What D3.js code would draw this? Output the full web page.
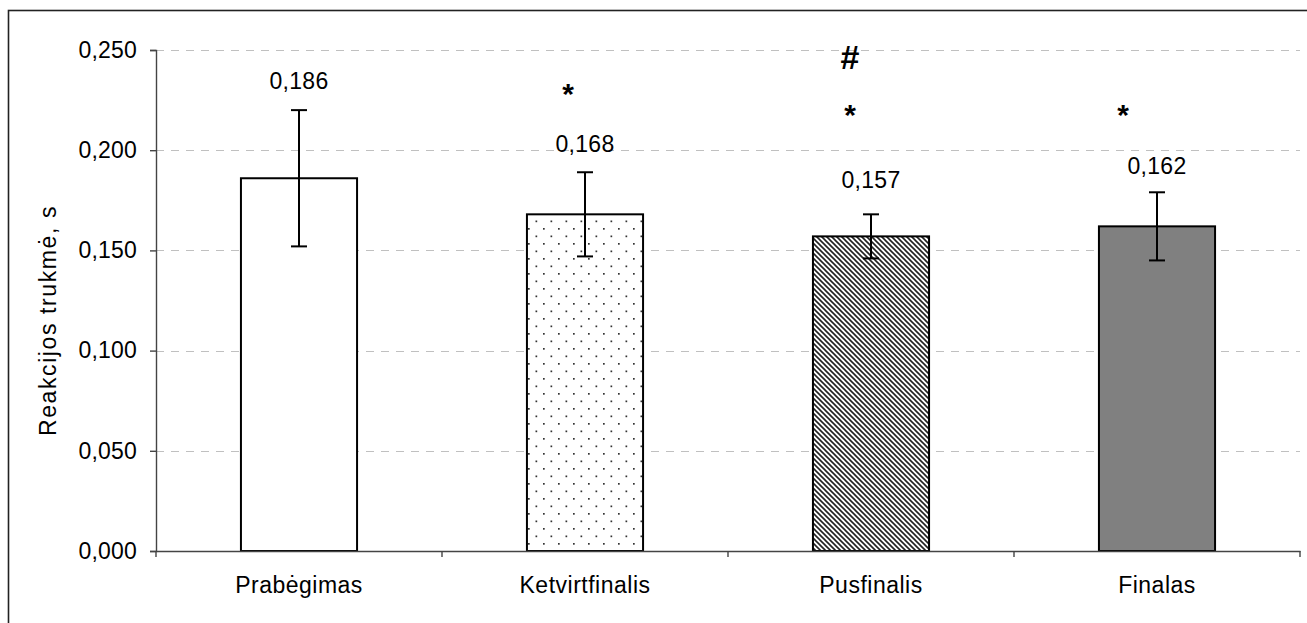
<!DOCTYPE html>
<html>
<head>
<meta charset="utf-8">
<script src="https://cdn.jsdelivr.net/npm/d3@7"></script>
<style>
  html, body { margin: 0; padding: 0; background: #fff; }
  svg { display: block; font-family: "Liberation Sans", Arial, sans-serif; }
</style>
</head>
<body>
<svg id="chart" width="1307" height="623"></svg>
<script>
// ---- data ----
const categories = ["Prabėgimas", "Ketvirtfinalis", "Pusfinalis", "Finalas"];
const means      = [0.186, 0.168, 0.157, 0.162];
const errors     = [0.034, 0.021, 0.011, 0.017];
const valueLabels = ["0,186", "0,168", "0,157", "0,162"];
const starMarks  = ["", "*", "*", "*"];          // significant vs Prabėgimas
const starLevels = [null, 0.2285, 0.2176, 0.2176];
const hashMarks  = ["", "", "#", ""];            // significant vs Ketvirtfinalis
const hashLevels = [null, null, 0.2465, null];
const yTicks = [0, 0.05, 0.10, 0.15, 0.20, 0.25];
const yTickLabels = ["0,000", "0,050", "0,100", "0,150", "0,200", "0,250"];
const yTitle = "Reakcijos trukmė, s";

// ---- layout / style ----
const fills = ["white", "url(#dots)", "url(#hatch)", "#808080"];
const markDx = [0, -17, -21, -34];
const labelGap = [21, 20, 26, 18];
const FS = 23;
const svg = d3.select("#chart");
const pLeft = 156, pRight = 1300, pTop = 50, pBottom = 551;

const defs = svg.append("defs");
const dots = defs.append("pattern").attr("id", "dots").attr("patternUnits", "userSpaceOnUse")
  .attr("width", 15).attr("height", 15);
dots.append("rect").attr("width", 15).attr("height", 15).attr("fill", "white");
dots.append("rect").attr("x", 3).attr("y", 3).attr("width", 1.7).attr("height", 1.7).attr("fill", "#333");
dots.append("rect").attr("x", 10.5).attr("y", 10.5).attr("width", 1.7).attr("height", 1.7).attr("fill", "#333");

const hatch = defs.append("pattern").attr("id", "hatch").attr("patternUnits", "userSpaceOnUse")
  .attr("width", 5).attr("height", 5);
hatch.append("rect").attr("width", 5).attr("height", 5).attr("fill", "white");
hatch.append("path").attr("d", "M-1,-1 L6,6 M-1,4 L1,6 M4,-1 L6,1")
  .attr("stroke", "#222").attr("stroke-width", 1.6);

// outer frame (right/bottom edges fall outside the picture)
svg.append("rect").attr("x", 8.5).attr("y", 10.5).attr("width", 1320).attr("height", 640)
  .attr("fill", "none").attr("stroke", "#222").attr("stroke-width", 1.6);

const x = d3.scaleBand().domain(categories).range([pLeft, pRight]).paddingInner(0.594).paddingOuter(0.297);
const xb = d3.scaleBand().domain(categories).range([pLeft, pRight]).padding(0);
const y = d3.scaleLinear().domain([0, 0.25]).range([pBottom, pTop]);

// gridlines
svg.append("g").selectAll("line").data(yTicks.filter(d => d > 0)).join("line")
  .attr("x1", pLeft).attr("x2", pRight)
  .attr("y1", d => Math.round(y(d)) + 0.5).attr("y2", d => Math.round(y(d)) + 0.5)
  .attr("stroke", "#c0c0c0").attr("stroke-width", 1).attr("stroke-dasharray", "8,7");

// y axis
const yAxis = d3.axisLeft(y).tickValues(yTicks).tickFormat((d, i) => yTickLabels[i]).tickSize(6).tickPadding(13);
const gy = svg.append("g").attr("transform", `translate(${pLeft},0)`).call(yAxis);
gy.select(".domain").attr("stroke", "#444").attr("stroke-width", 1.4);
gy.selectAll(".tick line").attr("stroke", "#444").attr("stroke-width", 1.4);
gy.selectAll("text").attr("font-size", FS).attr("fill", "#000").attr("letter-spacing", 0.2)
  .attr("font-family", "'Liberation Sans', Arial, sans-serif");

// bars
svg.append("g").selectAll("rect").data(categories).join("rect")
  .attr("x", d => x(d)).attr("width", x.bandwidth())
  .attr("y", (d, i) => y(means[i])).attr("height", (d, i) => y(0) - y(means[i]))
  .attr("fill", (d, i) => fills[i]).attr("stroke", "#000").attr("stroke-width", 2);

// x axis
const xAxis = d3.axisBottom(xb).tickSize(0).tickPadding(26);
const gx = svg.append("g").attr("transform", `translate(0,${pBottom})`).call(xAxis);
gx.select(".domain").attr("stroke", "#444").attr("stroke-width", 1.4);
gx.selectAll("text").attr("font-size", FS).attr("fill", "#000").attr("letter-spacing", 0.5)
  .attr("font-family", "'Liberation Sans', Arial, sans-serif");
// category boundary ticks
svg.append("g").selectAll("line").data(categories.concat(["_end"])).join("line")
  .attr("x1", (d, i) => i < categories.length ? xb(d) : pRight)
  .attr("x2", (d, i) => i < categories.length ? xb(d) : pRight)
  .attr("y1", pBottom).attr("y2", pBottom + 6)
  .attr("stroke", "#444").attr("stroke-width", 1.4);

// error bars
const cx = (d) => x(d) + x.bandwidth() / 2;
const eb = svg.append("g").attr("stroke", "#000").attr("stroke-width", 2);
categories.forEach((c, i) => {
  const yt = y(means[i] + errors[i]), yb = y(means[i] - errors[i]);
  eb.append("line").attr("x1", cx(c)).attr("x2", cx(c)).attr("y1", yt).attr("y2", yb);
  eb.append("line").attr("x1", cx(c) - 8).attr("x2", cx(c) + 8).attr("y1", yt).attr("y2", yt);
  eb.append("line").attr("x1", cx(c) - 8).attr("x2", cx(c) + 8).attr("y1", yb).attr("y2", yb);
});

// value labels
svg.append("g").selectAll("text").data(categories).join("text")
  .attr("x", d => cx(d)).attr("y", (d, i) => y(means[i] + errors[i]) - labelGap[i])
  .attr("text-anchor", "middle").attr("font-size", FS).attr("fill", "#000").attr("letter-spacing", 0.3)
  .text((d, i) => valueLabels[i]);

// significance marks
svg.append("g").selectAll("text").data(categories.filter((d, i) => starMarks[i])).join("text")
  .attr("x", d => cx(d) + markDx[categories.indexOf(d)])
  .attr("y", d => y(starLevels[categories.indexOf(d)]))
  .attr("text-anchor", "middle").attr("font-size", 30).attr("font-weight", "bold")
  .attr("dominant-baseline", "central")
  .text(d => starMarks[categories.indexOf(d)]);
svg.append("g").selectAll("text").data(categories.filter((d, i) => hashMarks[i])).join("text")
  .attr("x", d => cx(d) + markDx[categories.indexOf(d)])
  .attr("y", d => y(hashLevels[categories.indexOf(d)]))
  .attr("text-anchor", "middle").attr("font-size", 34).attr("font-weight", "bold")
  .attr("dominant-baseline", "central")
  .text(d => hashMarks[categories.indexOf(d)]);

// y title
svg.append("text")
  .attr("transform", `translate(56,${(pTop + pBottom) / 2 + 20}) rotate(-90)`)
  .attr("text-anchor", "middle").attr("font-size", FS).attr("fill", "#000").attr("letter-spacing", 1.6)
  .text(yTitle);
</script>
</body>
</html>
